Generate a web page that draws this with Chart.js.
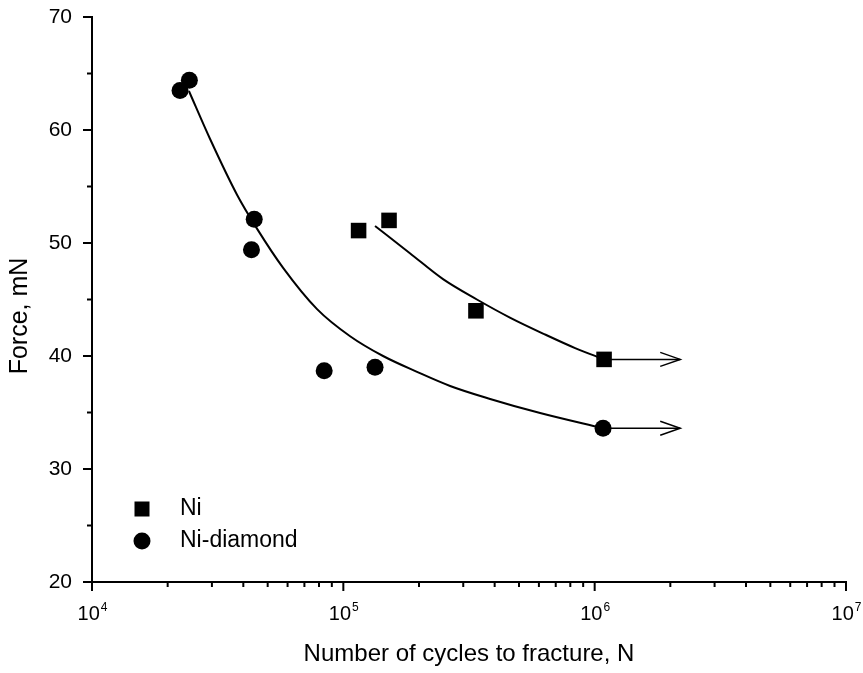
<!DOCTYPE html>
<html>
<head>
<meta charset="utf-8">
<script src="https://cdn.jsdelivr.net/npm/chart.js@4.4.0/dist/chart.umd.min.js"></script>
<style>
  html, body { margin: 0; padding: 0; background: #fff; }
  #wrap { width: 863px; height: 673px; }
</style>
</head>
<body>
<div id="wrap"><canvas id="fatigue" width="863" height="673"></canvas></div>
<script>
// measured points
var niCycles = [115000, 152000, 337000, 1090000];
var niForce = [51.1, 52.0, 44.0, 39.7];
var diamondCycles = [22400, 24400, 43100, 44200, 83900, 133700, 1080000];
var diamondForce = [63.5, 64.4, 49.4, 52.1, 38.7, 39.0, 33.6];

// fitted curves
var niFitCycles = [133700, 184000, 249300, 340000, 460000, 635000, 836000, 1090000];
var niFitForce = [51.5, 49.1, 46.8, 45.0, 43.4, 41.9, 40.7, 39.7];
var diamondFitCycles = [24300, 29500, 37800, 45400, 57600, 78600, 106400, 143900, 196400, 266000, 383800, 606700, 1080000];
var diamondFitForce = [63.45, 59.2, 54.25, 51.25, 47.8, 44.15, 41.75, 40.0, 38.6, 37.35, 36.2, 34.95, 33.6];

// run-outs (arrows)
var runoutEnd = 2190000;

var legendNames = ['Ni', 'Ni-diamond'];
var decades = [4, 5, 6, 7];
var yTicks = [20, 30, 40, 50, 60, 70];
var yTitle = 'Force, mN';

function pts(xs, ys) {
    return xs.map(function(x, i) { return { x: x, y: ys[i] }; });
}

var FONT = '"Liberation Sans", Arial, sans-serif';

var axesPlugin = {
    id: 'axesDecor',
    afterDraw: function(chart) {
        var ctx = chart.ctx;
        var xs = chart.scales.x, ys = chart.scales.y;
        var area = chart.chartArea;
        ctx.save();
        ctx.strokeStyle = '#000';
        ctx.fillStyle = '#000';
        ctx.lineWidth = 2;

        // y ticks (major + minor)
        for (var v = 20; v <= 70; v += 5) {
            var py = ys.getPixelForValue(v);
            var len = (v % 10 === 0) ? 9 : 5;
            ctx.beginPath();
            ctx.moveTo(area.left - len, py);
            ctx.lineTo(area.left, py);
            ctx.stroke();
        }

        // x ticks (log)
        for (var e = 4; e <= 7; e++) {
            for (var m = 1; m <= 9; m++) {
                if (e === 7 && m > 1) break;
                var px = xs.getPixelForValue(m * Math.pow(10, e));
                var l = (m === 1) ? 9 : 5;
                ctx.beginPath();
                ctx.moveTo(px, area.bottom);
                ctx.lineTo(px, area.bottom + l);
                ctx.stroke();
            }
        }

        // x labels with superscript
        decades.forEach(function(d) {
            var px = xs.getPixelForValue(Math.pow(10, d));
            ctx.font = '20px ' + FONT;
            var w1 = ctx.measureText('10').width;
            ctx.font = '12px ' + FONT;
            var w2 = ctx.measureText(String(d)).width;
            var start = px - (w1 + w2) / 2;
            ctx.textBaseline = 'alphabetic';
            ctx.textAlign = 'left';
            ctx.font = '20px ' + FONT;
            ctx.fillText('10', start, area.bottom + 38);
            ctx.font = '12px ' + FONT;
            ctx.fillText(String(d), start + w1 + 1, area.bottom + 29);
        });

        // y title
        ctx.save();
        ctx.translate(20, 316);
        ctx.rotate(-Math.PI / 2);
        ctx.font = '25px ' + FONT;
        ctx.textAlign = 'center';
        ctx.textBaseline = 'middle';
        ctx.fillText(yTitle, 0, 0);
        ctx.restore();

        // arrow heads on run-out lines
        [4, 5].forEach(function(idx) {
            var meta = chart.getDatasetMeta(idx);
            var end = meta.data[meta.data.length - 1];
            ctx.lineWidth = 1.5;
            ctx.beginPath();
            ctx.moveTo(end.x - 20, end.y - 7);
            ctx.lineTo(end.x, end.y);
            ctx.lineTo(end.x - 20, end.y + 7);
            ctx.stroke();
        });

        // legend
        var lx = area.left + 50, ly1 = 509, ly2 = 541;
        ctx.fillRect(lx - 7.5, ly1 - 7.5, 15, 15);
        ctx.beginPath();
        ctx.arc(lx, ly2, 8.5, 0, Math.PI * 2);
        ctx.fill();
        ctx.font = '23px ' + FONT;
        ctx.textBaseline = 'middle';
        ctx.textAlign = 'left';
        ctx.fillText(legendNames[0], area.left + 88, ly1);
        ctx.fillText(legendNames[1], area.left + 88, ly2);
        ctx.restore();
    }
};

var ctx = document.getElementById('fatigue').getContext('2d');
new Chart(ctx, {
    type: 'scatter',
    data: {
        datasets: [{
            label: 'Ni',
            data: pts(niCycles, niForce),
            pointStyle: 'rect',
            pointRadius: 11,
            backgroundColor: '#000',
            borderColor: '#000',
            borderWidth: 0
        }, {
            label: 'Ni-diamond',
            data: pts(diamondCycles, diamondForce),
            pointStyle: 'circle',
            pointRadius: 8.5,
            backgroundColor: '#000',
            borderColor: '#000',
            borderWidth: 0
        }, {
            label: 'Ni fit',
            data: pts(niFitCycles, niFitForce),
            showLine: true,
            pointRadius: 0,
            borderColor: '#000',
            borderWidth: 2,
            cubicInterpolationMode: 'monotone'
        }, {
            label: 'Ni-diamond fit',
            data: pts(diamondFitCycles, diamondFitForce),
            showLine: true,
            pointRadius: 0,
            borderColor: '#000',
            borderWidth: 2,
            cubicInterpolationMode: 'monotone'
        }, {
            label: 'Ni run-out',
            data: [{ x: niCycles[3], y: niForce[3] }, { x: runoutEnd, y: niForce[3] }],
            showLine: true,
            pointRadius: 0,
            borderColor: '#000',
            borderWidth: 1.5
        }, {
            label: 'Ni-diamond run-out',
            data: [{ x: diamondCycles[6], y: diamondForce[6] }, { x: runoutEnd, y: diamondForce[6] }],
            showLine: true,
            pointRadius: 0,
            borderColor: '#000',
            borderWidth: 1.5
        }]
    },
    options: {
        responsive: false,
        animation: false,
        layout: { padding: { top: 17, right: 17, left: 0, bottom: 0 } },
        plugins: {
            legend: { display: false },
            tooltip: { enabled: false }
        },
        scales: {
            x: {
                type: 'logarithmic',
                min: 10000,
                max: 10000000,
                grid: { display: false },
                border: { display: true, color: '#000', width: 2 },
                ticks: { display: false },
                title: {
                    display: true,
                    text: 'Number of cycles to fracture, N',
                    color: '#000',
                    font: { family: FONT, size: 24 },
                    padding: { top: 0, bottom: 4 }
                },
                afterFit: function(scale) {
                    scale.height = 91;
                    scale.paddingLeft = 0;
                    scale.paddingRight = 0;
                }
            },
            y: {
                min: 20,
                max: 70,
                grid: { display: false },
                border: { display: true, color: '#000', width: 2 },
                afterBuildTicks: function(scale) {
                    scale.ticks = yTicks.map(function(v) { return { value: v }; });
                },
                ticks: {
                    color: '#000',
                    padding: 12,
                    font: { family: FONT, size: 21 }
                },
                afterFit: function(scale) {
                    scale.width = 92;
                    scale.paddingTop = 0;
                    scale.paddingBottom = 0;
                }
            }
        }
    },
    plugins: [axesPlugin]
});
</script>
</body>
</html>
